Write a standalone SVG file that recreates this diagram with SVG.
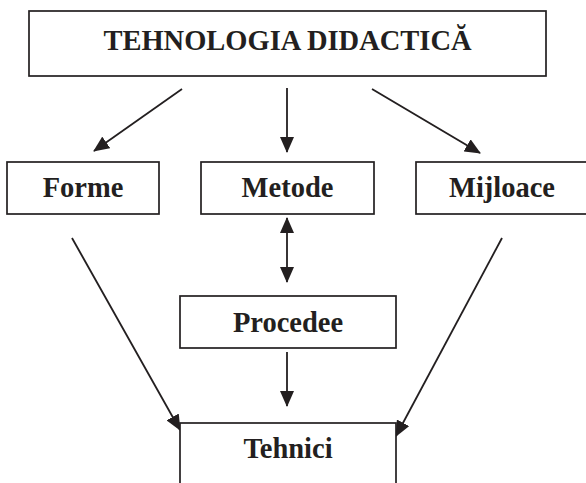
<svg xmlns="http://www.w3.org/2000/svg" width="586" height="483" viewBox="0 0 586 483">
<style>
.box{fill:#fff;stroke:#231f20;stroke-width:1.7}
.lbl{font-family:"Liberation Serif","Times New Roman",serif;font-weight:bold;font-size:28.5px;fill:#231f20;text-anchor:middle}
.con{stroke:#231f20;stroke-width:1.8;fill:none}
</style>
<defs>
<marker id="ah" viewBox="0 0 16 14" refX="15" refY="7" markerWidth="16" markerHeight="14" markerUnits="userSpaceOnUse" orient="auto-start-reverse">
<path d="M0,0 L16,7 L0,14 z" fill="#231f20"/>
</marker>
</defs>
<rect width="586" height="483" fill="#fff"/>
<g id="connectors">
<line class="con" x1="182" y1="89" x2="94" y2="151" marker-end="url(#ah)"/>
<line class="con" x1="287" y1="88" x2="287" y2="152" marker-end="url(#ah)"/>
<line class="con" x1="372" y1="89" x2="480" y2="153" marker-end="url(#ah)"/>
<line class="con" x1="287" y1="218" x2="287" y2="282" marker-start="url(#ah)" marker-end="url(#ah)"/>
<line class="con" x1="287" y1="352" x2="287" y2="406" marker-end="url(#ah)"/>
<line class="con" x1="72" y1="238" x2="180" y2="430" marker-end="url(#ah)"/>
<line class="con" x1="502" y1="238" x2="396" y2="436" marker-end="url(#ah)"/>
</g>
<g id="tehnologia">
<rect class="box" x="29" y="11" width="517" height="65"/>
<text class="lbl" x="287.5" y="50">TEHNOLOGIA DIDACTICĂ</text>
</g>
<g id="forme">
<rect class="box" x="7" y="162" width="152" height="52"/>
<text class="lbl" x="83" y="197">Forme</text>
</g>
<g id="metode">
<rect class="box" x="201" y="162" width="173" height="52"/>
<text class="lbl" x="287.5" y="197">Metode</text>
</g>
<g id="mijloace">
<rect class="box" x="416" y="162" width="172" height="52"/>
<text class="lbl" x="502" y="197">Mijloace</text>
</g>
<g id="procedee">
<rect class="box" x="180" y="296" width="216" height="52"/>
<text class="lbl" x="288" y="332">Procedee</text>
</g>
<g id="tehnici">
<rect class="box" x="180" y="423" width="216" height="70"/>
<text class="lbl" x="288" y="458">Tehnici</text>
</g>
</svg>
